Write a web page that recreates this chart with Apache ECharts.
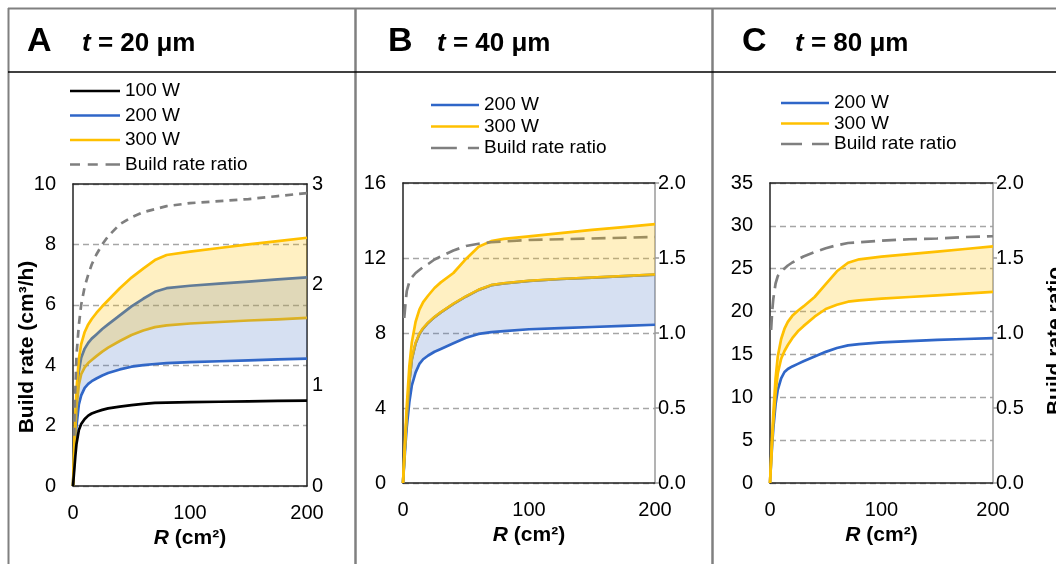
<!DOCTYPE html>
<html>
<head>
<meta charset="utf-8">
<script src="https://cdn.jsdelivr.net/npm/echarts@6/dist/echarts.min.js"></script>
<style>
html,body{margin:0;padding:0;background:#fff;}
#chart{width:1056px;height:564px;}
</style>
</head>
<body>
<div id="chart"></div>
<script>
// ---------- data ----------
const xR     = [0, 1, 2, 3, 5, 7, 10, 13, 16, 20, 25, 30, 40, 50, 60, 70, 80, 100, 125, 150, 175, 200]; // R (cm²)
const xRatio = [1, 2, 3, 5, 7, 10, 13, 16, 20, 25, 30, 40, 50, 60, 70, 80, 100, 125, 150, 175, 200];

// Panel A, t = 20 µm  (build rate, cm³/h)
const a100   = [0, 0.5, 1.0, 1.4, 1.85, 2.05, 2.22, 2.33, 2.4, 2.46, 2.52, 2.57, 2.63, 2.68, 2.72, 2.75, 2.76, 2.78, 2.79, 2.8, 2.82, 2.83];
const a200lo = [0, 0.8, 1.5, 2.0, 2.7, 3.0, 3.25, 3.38, 3.47, 3.56, 3.66, 3.74, 3.86, 3.95, 4.0, 4.04, 4.07, 4.1, 4.13, 4.16, 4.19, 4.22];
const a200hi = [0, 1.1, 2.1, 2.9, 3.8, 4.25, 4.55, 4.74, 4.88, 5.02, 5.2, 5.35, 5.65, 5.95, 6.2, 6.43, 6.55, 6.63, 6.7, 6.77, 6.84, 6.91];
const a300lo = [0, 1.0, 1.9, 2.6, 3.35, 3.7, 3.93, 4.07, 4.17, 4.3, 4.45, 4.58, 4.8, 5.0, 5.15, 5.26, 5.32, 5.38, 5.43, 5.48, 5.52, 5.57];
const a300hi = [0, 1.2, 2.3, 3.2, 4.2, 4.7, 5.1, 5.35, 5.53, 5.73, 5.95, 6.15, 6.55, 6.9, 7.2, 7.48, 7.65, 7.76, 7.88, 8.0, 8.11, 8.22];
const aRatio = [0.5, 0.95, 1.3, 1.6, 1.8, 1.98, 2.1, 2.2, 2.3, 2.4, 2.48, 2.6, 2.67, 2.72, 2.75, 2.78, 2.81, 2.83, 2.85, 2.88, 2.91];

// Panel B, t = 40 µm
const b200lo = [0, 1.1, 2.1, 3.0, 4.3, 5.2, 5.9, 6.35, 6.6, 6.8, 7.0, 7.15, 7.45, 7.75, 7.95, 8.05, 8.1, 8.2, 8.26, 8.32, 8.38, 8.44];
const b300lo = [0, 1.3, 2.5, 3.6, 5.4, 6.6, 7.45, 7.95, 8.25, 8.55, 8.85, 9.1, 9.55, 9.95, 10.3, 10.55, 10.65, 10.78, 10.88, 10.95, 11.03, 11.11]; // = 200 W upper
const b300hi = [0, 1.4, 2.8, 4.1, 6.2, 7.5, 8.6, 9.25, 9.65, 10.0, 10.4, 10.7, 11.2, 11.95, 12.6, 12.9, 13.02, 13.15, 13.33, 13.5, 13.65, 13.81];
const bRatio = [1.1, 1.2, 1.28, 1.34, 1.37, 1.4, 1.42, 1.44, 1.46, 1.49, 1.51, 1.55, 1.58, 1.595, 1.605, 1.61, 1.62, 1.625, 1.63, 1.635, 1.64];

// Panel C, t = 80 µm
const c200   = [0, 2.4, 4.6, 6.4, 9.2, 10.9, 12.2, 12.95, 13.3, 13.6, 13.9, 14.2, 14.75, 15.3, 15.75, 16.05, 16.2, 16.4, 16.55, 16.7, 16.8, 16.9];
const c300lo = [0, 2.6, 5.1, 7.2, 10.5, 12.8, 14.5, 15.4, 16.1, 16.9, 17.7, 18.3, 19.4, 20.3, 20.8, 21.15, 21.3, 21.5, 21.7, 21.9, 22.1, 22.3];
const c300hi = [0, 2.8, 5.6, 8.2, 12.2, 14.8, 16.8, 18.0, 18.8, 19.5, 20.1, 20.6, 21.7, 23.2, 24.7, 25.7, 26.1, 26.4, 26.7, 27.0, 27.3, 27.6];
const cRatio = [1.02, 1.15, 1.23, 1.33, 1.38, 1.41, 1.43, 1.45, 1.47, 1.49, 1.51, 1.54, 1.565, 1.585, 1.6, 1.605, 1.615, 1.625, 1.63, 1.64, 1.645];

// axes
const xTicks   = {min: 0, max: 200, interval: 100};
const leftAxes = [{min: 0, max: 10, interval: 2}, {min: 0, max: 16, interval: 4}, {min: 0, max: 35, interval: 5}];
const rightAxes= [{min: 0, max: 3, interval: 1}, {min: 0, max: 2, interval: 0.5}, {min: 0, max: 2, interval: 0.5}];

// names
const panelLetters = ['A', 'B', 'C'];
const panelThick   = ['20', '40', '80'];
const legendNames  = [['100 W', '200 W', '300 W', 'Build rate ratio'], ['200 W', '300 W', 'Build rate ratio'], ['200 W', '300 W', 'Build rate ratio']];

// ---------- styling ----------
const FONT = 'Liberation Sans, Arial, Helvetica, sans-serif';
const BLACK = '#000000', BLUE = '#2F66C8', GOLD = '#FFC000', GRAY = '#7F7F7F';
const BLUE_FILL = 'rgba(68,114,196,0.22)', GOLD_FILL = 'rgba(255,192,0,0.24)';

const pairs = (xs, ys) => xs.map((x, i) => [x, ys[i]]);

function lineSeries(name, g, xs, ys, color, opts) {
  opts = opts || {};
  return {
    type: 'line', name: name, xAxisIndex: g, yAxisIndex: opts.right ? g + 3 : g,
    data: pairs(xs, ys), symbol: 'none', showSymbol: false, smooth: false,
    lineStyle: {color: color, width: 2.7, type: opts.dash || 'solid', cap: 'butt', join: 'round'},
    itemStyle: {color: color}, z: 2, silent: true, animation: false
  };
}
// band between lo and hi, drawn as one polygon through the axes' scales
function bandSeries(g, lo, hi, fill) {
  return {
    type: 'custom', xAxisIndex: g, yAxisIndex: g, silent: true, animation: false, z: 3, clip: true,
    data: xR.map((x, i) => [x, lo[i], hi[i]]),
    encode: {x: 0, y: [1, 2]},
    renderItem: function (params, api) {
      if (params.dataIndexInside !== 0) return null;
      const n = params.dataInsideLength;
      const pts = [];
      for (let i = 0; i < n; i++) pts.push(api.coord([api.value(0, i), api.value(2, i)]));
      for (let i = n - 1; i >= 0; i--) pts.push(api.coord([api.value(0, i), api.value(1, i)]));
      return {type: 'polygon', shape: {points: pts}, style: {fill: fill, stroke: null}};
    }
  };
}

const grids = [
  {left: 73, top: 184, width: 234, height: 302},
  {left: 403, top: 183, width: 252, height: 300},
  {left: 770, top: 183, width: 223, height: 300}
];

const axisLineBlack = {show: true, onZero: false, lineStyle: {color: '#222', width: 1.5}};
const labelStyle = {fontSize: 20, color: '#000', fontFamily: FONT};

const xAxes = [];
grids.forEach((gr, g) => {
  xAxes.push(Object.assign({
    gridIndex: g, type: 'value', position: 'bottom',
    axisLine: axisLineBlack, axisTick: {show: false},
    axisLabel: Object.assign({margin: 17}, labelStyle),
    splitLine: {show: false},
    name: '{i|R} (cm²)', nameLocation: 'middle', nameGap: 41,
    nameTextStyle: {fontSize: 21, fontWeight: 'bold', color: '#000', fontFamily: FONT,
      rich: {i: {fontStyle: 'italic', fontWeight: 'bold', fontSize: 21, fontFamily: FONT, color: '#000'}}}
  }, xTicks));
});
grids.forEach((gr, g) => {
  xAxes.push(Object.assign({
    gridIndex: g, type: 'value', position: 'top',
    axisLine: axisLineBlack, axisTick: {show: false}, axisLabel: {show: false}, splitLine: {show: false}
  }, xTicks));
});

const yAxes = [];
leftAxes.forEach((ax, g) => {
  yAxes.push(Object.assign({
    gridIndex: g, type: 'value', position: 'left',
    axisLine: axisLineBlack, axisTick: {show: false},
    axisLabel: Object.assign({margin: 17}, labelStyle),
    splitLine: {show: true, lineStyle: {color: '#A6A6A6', width: 1.3, type: [6, 4]}}
  }, ax));
});
rightAxes.forEach((ax, g) => {
  const gray = g > 0;
  yAxes.push(Object.assign({
    gridIndex: g, type: 'value', position: 'right',
    axisLine: gray ? {show: true, onZero: false, lineStyle: {color: '#9A9A9A', width: 1.5}} : axisLineBlack,
    axisTick: gray ? {show: true, length: 4, lineStyle: {color: '#9A9A9A', width: 1.5}} : {show: false},
    axisLabel: Object.assign({margin: gray ? 3 : 5, formatter: gray ? (v => v.toFixed(1)) : (v => String(v))}, labelStyle),
    splitLine: {show: false}
  }, ax));
});

const series = [];
// Panel A
series.push(lineSeries('200 W', 0, xR, a200lo, BLUE));
series.push(lineSeries('200 W', 0, xR, a200hi, BLUE));
series.push(lineSeries('300 W', 0, xR, a300lo, GOLD));
series.push(lineSeries('300 W', 0, xR, a300hi, GOLD));
series.push(lineSeries('100 W', 0, xR, a100, BLACK));
series.push(lineSeries('Build rate ratio', 0, xRatio, aRatio, GRAY, {right: true, dash: [8, 6]}));
series.push(bandSeries(0, a200lo, a200hi, BLUE_FILL));
series.push(bandSeries(0, a300lo, a300hi, GOLD_FILL));
// Panel B
series.push(lineSeries('200 W', 1, xR, b200lo, BLUE));
series.push(lineSeries('200 W', 1, xR, b300lo, BLUE));
series.push(lineSeries('300 W', 1, xR, b300lo, GOLD));
series.push(lineSeries('300 W', 1, xR, b300hi, GOLD));
series.push(lineSeries('Build rate ratio', 1, xRatio, bRatio, GRAY, {right: true, dash: [14, 7]}));
series.push(bandSeries(1, b200lo, b300lo, BLUE_FILL));
series.push(bandSeries(1, b300lo, b300hi, GOLD_FILL));
// Panel C
series.push(lineSeries('200 W', 2, xR, c200, BLUE));
series.push(lineSeries('300 W', 2, xR, c300lo, GOLD));
series.push(lineSeries('300 W', 2, xR, c300hi, GOLD));
series.push(lineSeries('Build rate ratio', 2, xRatio, cRatio, GRAY, {right: true, dash: [14, 7]}));
series.push(bandSeries(2, c300lo, c300hi, GOLD_FILL));

// legend icons: solid bar for power lines, dashed bar for the ratio
const dashIcons = [
  'path://M0,0h9v1h-9z M16,0h9v1h-9z M32,0h13v1h-13z',
  'path://M0,0h21v1h-21z M30,0h9v1h-9z',
  'path://M0,0h21v1h-21z M31,0h17v1h-17z'
];
const legendPos = [
  {left: 70, top: 81, itemWidth: 50, itemGap: 4.5},
  {left: 431, top: 95, itemWidth: 48, itemGap: 1.5},
  {left: 781, top: 93, itemWidth: 48, itemGap: 0.5}
];
const legends = legendPos.map((lp, g) => ({
  orient: 'vertical', left: lp.left, top: lp.top, padding: 0,
  itemWidth: lp.itemWidth, itemHeight: 2.6, itemGap: lp.itemGap,
  symbolKeepAspect: false, selectedMode: false,
  textStyle: {fontSize: 19, color: '#000', fontFamily: FONT, lineHeight: 20},
  data: legendNames[g].map(n => n === 'Build rate ratio'
    ? {name: n, icon: dashIcons[g], itemStyle: {color: GRAY}}
    : {name: n, icon: 'rect'})
}));

// frame + headers
const graphics = [
  {type: 'line', shape: {x1: 8, y1: 8.5, x2: 1056, y2: 8.5}, style: {stroke: '#808080', lineWidth: 2}},
  {type: 'line', shape: {x1: 8.5, y1: 8, x2: 8.5, y2: 564}, style: {stroke: '#808080', lineWidth: 2}},
  {type: 'line', shape: {x1: 355.5, y1: 8, x2: 355.5, y2: 564}, style: {stroke: '#808080', lineWidth: 2.5}},
  {type: 'line', shape: {x1: 712.5, y1: 8, x2: 712.5, y2: 564}, style: {stroke: '#808080', lineWidth: 2.5}},
  {type: 'line', shape: {x1: 8, y1: 72, x2: 1056, y2: 72}, style: {stroke: '#000', lineWidth: 1.5}}
];
const letterX = [27, 388, 742], thickX = [82, 437, 795];
panelLetters.forEach((L, g) => {
  graphics.push({type: 'text', x: letterX[g], y: 42, style: {text: L, fill: '#000',
    font: 'bold 34px ' + FONT, textAlign: 'left', textVerticalAlign: 'middle'}});
  graphics.push({type: 'text', x: thickX[g], y: 44, style: {
    text: '{i|t}{n| = ' + panelThick[g] + ' μm}', textAlign: 'left', textVerticalAlign: 'middle',
    rich: {i: {fontStyle: 'italic', fontWeight: 'bold', fontSize: 26, fontFamily: FONT, fill: '#000'},
           n: {fontWeight: 'bold', fontSize: 26, fontFamily: FONT, fill: '#000'}}}});
});
graphics.push({type: 'text', x: 27, y: 347, rotation: Math.PI / 2, style: {
  text: 'Build rate (cm³/h)', fill: '#000', font: 'bold 21px ' + FONT, textAlign: 'center', textVerticalAlign: 'middle'}});
graphics.push({type: 'text', x: 1055, y: 341, rotation: Math.PI / 2, style: {
  text: 'Build rate ratio', fill: '#000', font: 'bold 21px ' + FONT, textAlign: 'center', textVerticalAlign: 'middle'}});

const chart = echarts.init(document.getElementById('chart'), null, {renderer: 'canvas'});
chart.setOption({
  animation: false,
  backgroundColor: '#fff',
  grid: grids,
  xAxis: xAxes,
  yAxis: yAxes,
  legend: legends,
  series: series,
  graphic: graphics
});
</script>
</body>
</html>
